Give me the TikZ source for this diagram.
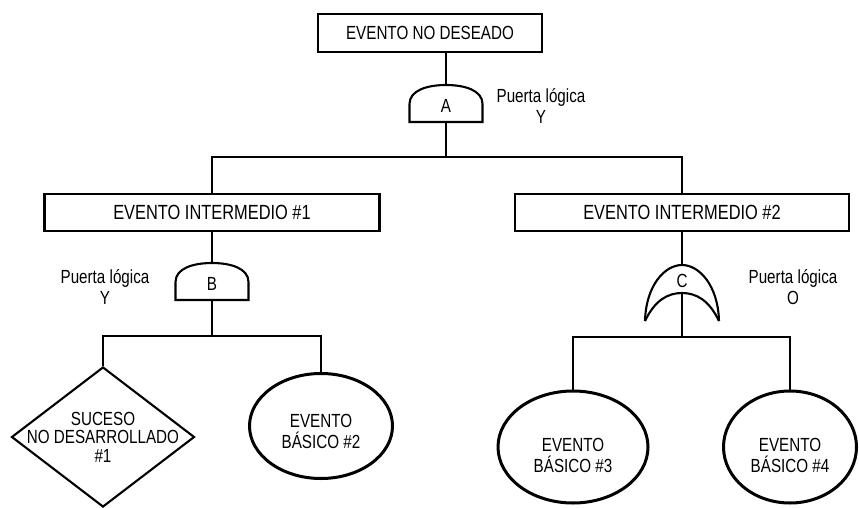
\documentclass[tikz,border=0pt]{standalone}
\usepackage{fontspec}
\setmainfont{Liberation Sans}[FakeStretch=0.8]
\usetikzlibrary{shapes.geometric}
\begin{document}
\begin{tikzpicture}[x=1pt,y=-1pt,
  txt/.style={font=\fontsize{19}{21}\selectfont},
  evbox/.style={txt,draw,line width=2.1pt,rectangle,inner sep=0pt},
  midbox/.style={evbox,font=\fontsize{20.5}{22}\selectfont},
  basic/.style={draw,ellipse,line width=3pt,inner sep=0pt},
  basictext/.style={align=center,font=\fontsize{19}{21}\selectfont},
  undev/.style={draw,diamond,line width=2.1pt,inner sep=0pt},
  link/.style={line width=2pt},
  gateline/.style={line width=2.1pt},
  gatetag/.style={align=center,font=\fontsize{19}{21}\selectfont},
  andgate/.pic={
    \draw[gateline] (-36.5,0) -- (-36.5,-18)
      .. controls (-36.5,-32) and (-18,-37) .. (0,-37)
      .. controls (18,-37) and (36.5,-32) .. (36.5,-18) -- (36.5,0) -- cycle;
    \coordinate (-top) at (0,-37);
    \coordinate (-bot) at (0,0);
  },
  orgate/.pic={
    \draw[gateline] (-37,0) .. controls (-36,-36) and (-17,-56) .. (0,-56)
      .. controls (17,-56) and (36,-36) .. (37,0);
    \draw[gateline] (-37,0) .. controls (-27,-21) and (-14,-28) .. (0,-28)
      .. controls (14,-28) and (27,-21) .. (37,0);
    \coordinate (-top) at (0,-56);
    \coordinate (-inner) at (0,-28);
  }]
\useasboundingbox (0,0) rectangle (859,508);

% events
\node[evbox,minimum width=224pt,minimum height=38pt] (top) at (430,33) {EVENTO NO DESEADO};
\node[midbox,minimum width=335pt,minimum height=37pt] (int1) at (212,212.5) {EVENTO INTERMEDIO \#1};
\node[midbox,minimum width=334pt,minimum height=37pt] (int2) at (682,212.5) {EVENTO INTERMEDIO \#2};

% gates
\pic (gA) at (446,122) {andgate};
\node[txt] (gAl) at (446,106) {A};
\pic (gB) at (212,300) {andgate};
\node[txt] (gBl) at (212,284) {B};
\pic (gC) at (682,321) {orgate};
\node[txt] (gCl) at (682,281) {C};

\node[gatetag] (tA) at (541,106) {Puerta lógica\\Y};
\node[gatetag] (tB) at (105,287) {Puerta lógica\\Y};
\node[gatetag] (tC) at (793,287) {Puerta lógica\\O};

% bottom events
\node[undev,minimum width=183pt,minimum height=140pt] (u1) at (103,437) {};
\node[basictext,font=\fontsize{19}{18.5}\selectfont] (u1t) at (u1) {SUCESO\\NO DESARROLLADO\\\#1};
\node[basic,minimum width=143pt,minimum height=105pt] (e2) at (321,426) {};
\node[basic,minimum width=150pt,minimum height=112pt] (e3) at (573,447) {};
\node[basic,minimum width=133pt,minimum height=112pt] (e4) at (790,447) {};
\node[basictext] (e2t) at ([yshift=-5]e2) {EVENTO\\BÁSICO \#2};
\node[basictext] (e3t) at ([yshift=-8]e3) {EVENTO\\BÁSICO \#3};
\node[basictext] (e4t) at ([yshift=-8]e4) {EVENTO\\BÁSICO \#4};

% junctions
\coordinate (jA) at (446,157);
\coordinate (jB) at (212,336);
\coordinate (jC) at (682,337);

% connectors
\draw[link] (gA-top |- top.south) -- (gA-top);
\draw[link] (gA-bot) -- (jA);
\draw[link] (int1.north) |- (jA) -| (int2.north);
\draw[link] (int1.south) -- (gB-top);
\draw[link] (gB-bot) -- (jB);
\draw[link] (u1.north) |- (jB) -| (e2.north);
\draw[link] (int2.south) -- (gC-top);
\draw[link] (gC-inner) -- (jC);
\draw[link] (e3.north) |- (jC) -| (e4.north);
\end{tikzpicture}
\end{document}
